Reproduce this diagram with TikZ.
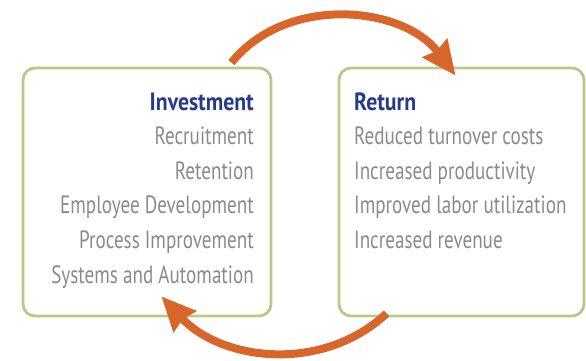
\documentclass[tikz,border=0pt]{standalone}
\usepackage{fontspec}
\setmainfont[FakeStretch=0.765,BoldFeatures={FakeStretch=0.87}]{PT Sans}
\usetikzlibrary{arrows.meta}
\definecolor{arrorange}{HTML}{D8662A}
\definecolor{boxgreen}{HTML}{BCC88A}
\definecolor{headblue}{HTML}{263A8C}
\definecolor{itemgray}{HTML}{8A8A8A}
\begin{document}
\begin{tikzpicture}[x=1pt,y=1pt,
  box/.style={draw=boxgreen, line width=2.8pt, rounded corners=12pt, inner sep=0pt, minimum height=248pt},
  head/.style={inner sep=0pt, text=headblue, font=\fontsize{25}{30}\selectfont\bfseries},
  item/.style={inner sep=0pt, text=itemgray, font=\fontsize{25}{30}\selectfont},
  arr/.style={draw=arrorange, line width=8pt, -{Stealth[inset=3pt,length=34pt,width=30pt]}}]
\useasboundingbox (0,0) rectangle (586,360);
\node[box, minimum width=248pt] (inv) at (147,168) {};
\node[box, minimum width=245pt] (ret) at (461.5,168) {};
% left column
\node[head, anchor=base east] (invh) at (254,250) {Investment};
\foreach \t [count=\i] in {Recruitment,Retention,Employee Development,Process Improvement,Systems and Automation}
  \node[item, anchor=base east] (inv\i) at (254,250-34.6*\i) {\t};
% right column
\node[head, anchor=base west] (reth) at (354,250) {Return};
\foreach \t [count=\i] in {Reduced turnover costs,Increased productivity,Improved labor utilization,Increased revenue}
  \node[item, anchor=base west] (ret\i) at (354,250-34.6*\i) {\t};
% arrows
\draw[arr] ([xshift=-41pt,yshift=4pt]inv.north east) to[out=51,in=127] ([xshift=118pt,yshift=-9pt]ret.north west);
\draw[arr] ([xshift=49pt,yshift=4pt]ret.south west) to[out=223,in=-47] ([xshift=-111pt,yshift=21pt]inv.south east);
\end{tikzpicture}
\end{document}
